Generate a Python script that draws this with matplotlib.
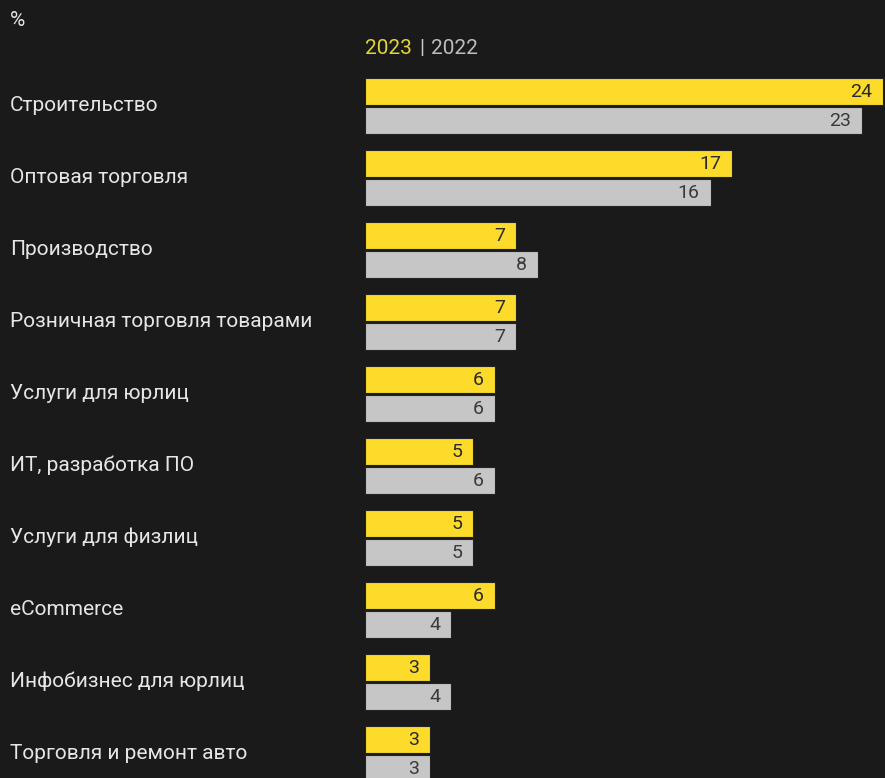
import numpy as np
import matplotlib.pyplot as plt
from matplotlib.transforms import blended_transform_factory

# Data (% share)
categories = ['Строительство', 'Оптовая торговля', 'Производство',
              'Розничная торговля товарами', 'Услуги для юрлиц',
              'ИТ, разработка ПО', 'Услуги для физлиц', 'eCommerce',
              'Инфобизнес для юрлиц', 'Торговля и ремонт авто']
values_2023 = [24, 17, 7, 7, 6, 5, 5, 6, 3, 3]
values_2022 = [23, 16, 8, 7, 6, 6, 5, 4, 4, 3]

bg = '#1a1a1a'
yellow = '#fddb2b'
gray = '#c6c6c6'
txt = '#e6e6e6'

plt.rcParams['font.family'] = ['Roboto', 'DejaVu Sans']

W, H = 885, 778
fig = plt.figure(figsize=(W / 100, H / 100), dpi=100, facecolor=bg)
ax = fig.add_axes([365 / W, 0, 520 / W, 1])
ax.set_facecolor(bg)
ax.set_xlim(0, 520 / 21.6)
ax.set_ylim(H, 0)  # y in pixel units, top-down

# group centres (between the two bars of each pair)
centers = 105.5 + 72 * np.arange(len(categories))
bh = 27
off = 14.5

ax.barh(centers - off, values_2023, height=bh, color=yellow, edgecolor='#222222', linewidth=0.8)
ax.barh(centers + off, values_2022, height=bh, color=gray, edgecolor='#222222', linewidth=0.8)

for c, v1, v2 in zip(centers, values_2023, values_2022):
    ax.text(v1 - 0.5, c - off + 1, str(v1), ha='right', va='center', fontsize=14, color='#2a2a2a')
    ax.text(v2 - 0.5, c + off + 1, str(v2), ha='right', va='center', fontsize=14, color='#3a3a3a')

trans = blended_transform_factory(fig.transFigure, ax.transData)
for c, cat in zip(centers, categories):
    ax.text(10 / W, c, cat, transform=trans, ha='left', va='center', fontsize=15, color=txt)

ax.axis('off')

# header: unit and legend
fig.text(10 / W, 1 - 20 / H, '%', ha='left', va='center', fontsize=15, color=txt)
leg_y = 1 - 48 / H
t1 = fig.text(365 / W, leg_y, '2023', ha='left', va='center', fontsize=15, color='#e3d43a')
fig.canvas.draw()
bb = t1.get_window_extent()
t2 = fig.text((bb.x1 + 7) / W, leg_y, '|', ha='left', va='center', fontsize=15, color='#cccccc')
fig.canvas.draw()
bb = t2.get_window_extent()
fig.text((bb.x1 + 7) / W, leg_y, '2022', ha='left', va='center', fontsize=15, color='#bdbdbd')

fig.savefig('out.png', dpi=100, facecolor=bg)
